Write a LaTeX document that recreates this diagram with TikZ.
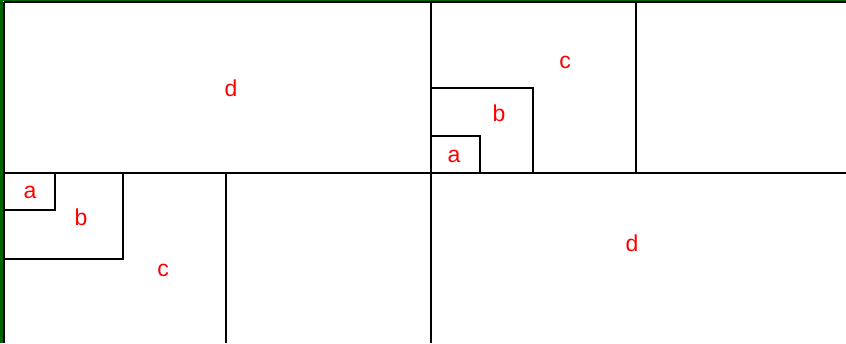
\documentclass[tikz,border=0pt]{standalone}
\usepackage{fontspec}
\setmainfont{Liberation Sans}
\begin{document}
\begin{tikzpicture}[x=1pt,y=-1pt,
  ln/.style={line width=2pt,black},
  lbl/.style={text=red,font=\fontsize{23}{23}\selectfont,inner sep=0pt}]
\useasboundingbox (0,0) rectangle (846,343);
\fill[green!40!black] (0,0) rectangle (846,343);
\fill[white] (3,1) rectangle (846,343);
% frame lines
\coordinate (tl) at (4,2);
\coordinate (tr) at (846,2);
\coordinate (bl) at (4,343);
\draw[ln] (tl) -- (tr);
\draw[ln] (tl) -- (bl);
% main lines
\coordinate (ml) at (4,173);
\coordinate (mr) at (846,173);
\coordinate (vt) at (431,2);
\coordinate (vb) at (431,343);
\draw[ln] (ml) -- (mr);
\draw[ln] (vt) -- (vb);
% top right
\coordinate (c1t) at (636,2);
\coordinate (c1b) at (636,173);
\draw[ln] (c1t) -- (c1b);
\coordinate (tb1) at (431,88);
\coordinate (tb2) at (533,88);
\coordinate (tb3) at (533,173);
\draw[ln] (tb1) -- (tb2) -- (tb3);
\coordinate (ta1) at (431,136);
\coordinate (ta2) at (480,136);
\coordinate (ta3) at (480,173);
\draw[ln] (ta1) -- (ta2) -- (ta3);
% bottom left
\coordinate (c2t) at (226,173);
\coordinate (c2b) at (226,343);
\draw[ln] (c2t) -- (c2b);
\coordinate (bb1) at (123,173);
\coordinate (bb2) at (123,259);
\coordinate (bb3) at (4,259);
\draw[ln] (bb1) -- (bb2) -- (bb3);
\coordinate (ba1) at (55,173);
\coordinate (ba2) at (55,210);
\coordinate (ba3) at (4,210);
\draw[ln] (ba1) -- (ba2) -- (ba3);
% labels
\node[lbl] (d1) at (231,88) {d};
\node[lbl] (c1) at (565,62) {c};
\node[lbl] (b1) at (499,113) {b};
\node[lbl] (a1) at (454,156) {a};
\node[lbl] (a2) at (30,192) {a};
\node[lbl] (b2) at (81,217) {b};
\node[lbl] (c2) at (163,270) {c};
\node[lbl] (d2) at (632,243) {d};
\end{tikzpicture}
\end{document}
